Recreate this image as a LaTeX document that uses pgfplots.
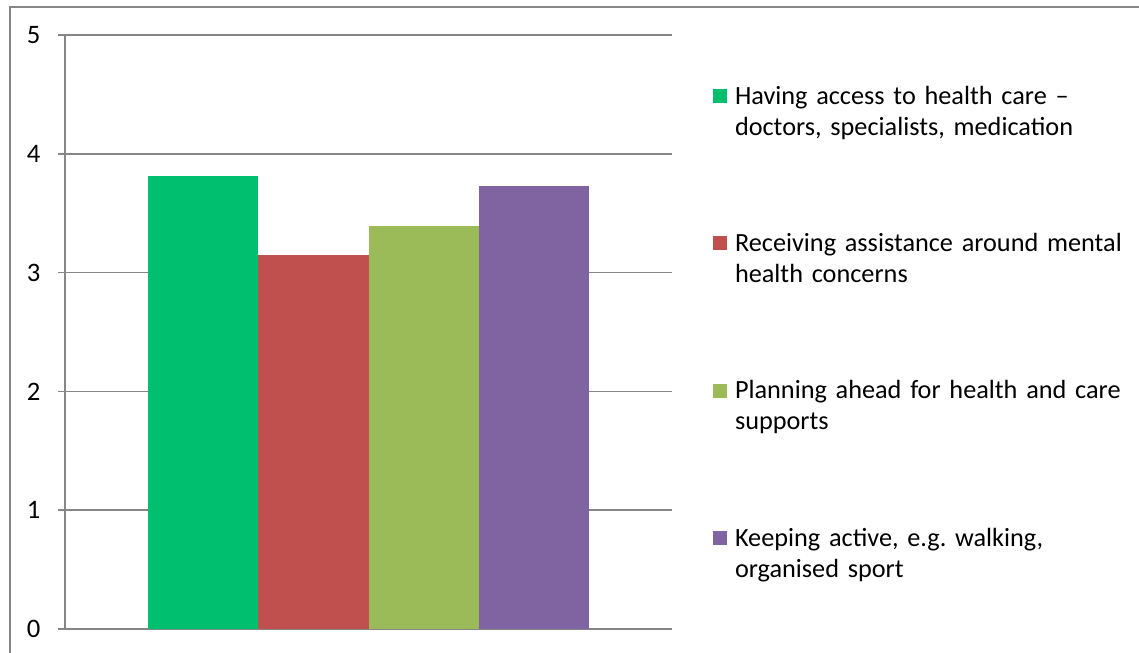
\documentclass[border=0pt]{standalone}
\usepackage{pgfplots}
\pgfplotsset{compat=1.18}
\usepackage{fontspec}
\setmainfont{Carlito}
\frenchspacing
\definecolor{cgreen}{HTML}{00BF6F}
\definecolor{cred}{HTML}{C0504D}
\definecolor{colive}{HTML}{9BBB59}
\definecolor{cpurple}{HTML}{8064A2}
\definecolor{cgrid}{HTML}{868686}
\begin{document}
\begin{tikzpicture}
\useasboundingbox (0,0) rectangle (854.25pt,489.75pt);
\draw[cgrid, line width=1.3pt] (7.5pt,-5pt) -- (7.5pt,484.5pt) -- (860pt,484.5pt);
\begin{axis}[
  at={(48.75pt,18pt)}, anchor=south west,
  scale only axis, width=455.25pt, height=445.5pt,
  xmin=-0.5, xmax=0.5, ymin=0, ymax=5,
  ytick={0,1,2,3,4,5}, xtick=\empty,
  ybar=0pt, bar width=82.5pt,
  axis lines*=left,
  axis line style={draw=cgrid, line width=1.3pt, -},
  ymajorgrids, grid style={draw=cgrid, line width=1.3pt},
  tick align=outside, major tick length=5.25pt,
  ytick style={draw=cgrid, line width=1.3pt},
  /pgf/number format/assume math mode=true,
  yticklabel style={font=\fontsize{20}{24}\selectfont, inner sep=0pt, anchor=east, xshift=-13pt},
  legend style={at={(1.06755,0.91751)}, anchor=north west, draw=none, fill=none,
    inner sep=0pt, outer sep=0pt, row sep=67.6pt, column sep=6pt,
    font=\fontsize{19.7}{23.25}\selectfont,
    cells={anchor=base west},
    nodes={inner sep=0pt, text width=320pt, align=left, text height=15pt, text depth=28pt}},
  legend image code/.code={\fill[#1] (0pt,0.75pt) rectangle (10.5pt,11.25pt);},
]
\addplot[fill=cgreen, draw=none] coordinates {(0,3.81)};
\addlegendentry{Having access to health care --\\doctors, specialists, medication}
\addplot[fill=cred, draw=none] coordinates {(0,3.15)};
\addlegendentry{Receiving assistance around mental\\health concerns}
\addplot[fill=colive, draw=none] coordinates {(0,3.39)};
\addlegendentry{Planning ahead for health and care\\supports}
\addplot[fill=cpurple, draw=none] coordinates {(0,3.73)};
\addlegendentry{Keeping active, e.g. walking,\\organised sport}
\end{axis}
\end{tikzpicture}
\end{document}
